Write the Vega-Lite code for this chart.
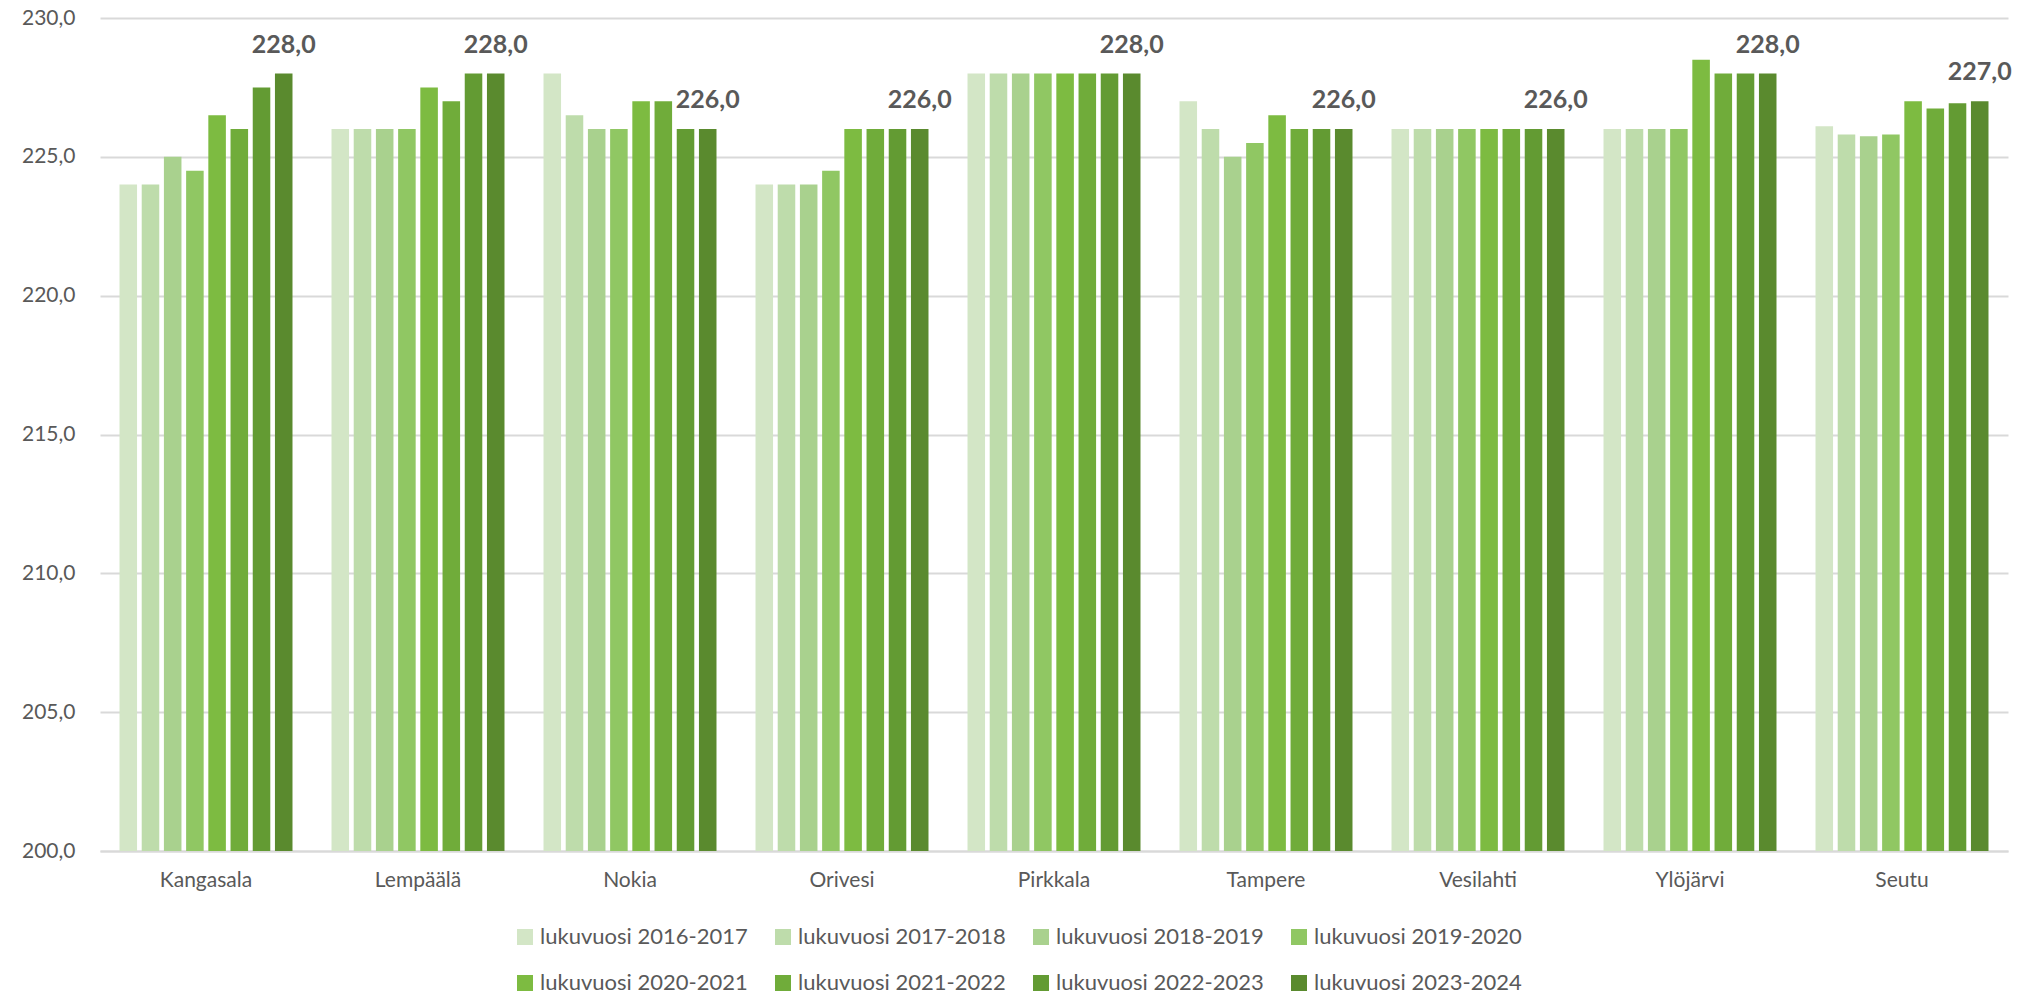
{
  "$schema": "https://vega.github.io/schema/vega-lite/v6.json",
  "width": 1908,
  "height": 833,
  "autosize": {"type": "none"},
  "padding": {"left": 100, "top": 18, "right": 16, "bottom": 145},
  "background": "white",
  "data": {"values": [
    {"kunta": "Kangasala", "lukuvuosi": "lukuvuosi 2016-2017", "arvo": 224},
    {"kunta": "Kangasala", "lukuvuosi": "lukuvuosi 2017-2018", "arvo": 224},
    {"kunta": "Kangasala", "lukuvuosi": "lukuvuosi 2018-2019", "arvo": 225},
    {"kunta": "Kangasala", "lukuvuosi": "lukuvuosi 2019-2020", "arvo": 224.5},
    {"kunta": "Kangasala", "lukuvuosi": "lukuvuosi 2020-2021", "arvo": 226.5},
    {"kunta": "Kangasala", "lukuvuosi": "lukuvuosi 2021-2022", "arvo": 226},
    {"kunta": "Kangasala", "lukuvuosi": "lukuvuosi 2022-2023", "arvo": 227.5},
    {"kunta": "Kangasala", "lukuvuosi": "lukuvuosi 2023-2024", "arvo": 228},
    {"kunta": "Lempäälä", "lukuvuosi": "lukuvuosi 2016-2017", "arvo": 226},
    {"kunta": "Lempäälä", "lukuvuosi": "lukuvuosi 2017-2018", "arvo": 226},
    {"kunta": "Lempäälä", "lukuvuosi": "lukuvuosi 2018-2019", "arvo": 226},
    {"kunta": "Lempäälä", "lukuvuosi": "lukuvuosi 2019-2020", "arvo": 226},
    {"kunta": "Lempäälä", "lukuvuosi": "lukuvuosi 2020-2021", "arvo": 227.5},
    {"kunta": "Lempäälä", "lukuvuosi": "lukuvuosi 2021-2022", "arvo": 227},
    {"kunta": "Lempäälä", "lukuvuosi": "lukuvuosi 2022-2023", "arvo": 228},
    {"kunta": "Lempäälä", "lukuvuosi": "lukuvuosi 2023-2024", "arvo": 228},
    {"kunta": "Nokia", "lukuvuosi": "lukuvuosi 2016-2017", "arvo": 228},
    {"kunta": "Nokia", "lukuvuosi": "lukuvuosi 2017-2018", "arvo": 226.5},
    {"kunta": "Nokia", "lukuvuosi": "lukuvuosi 2018-2019", "arvo": 226},
    {"kunta": "Nokia", "lukuvuosi": "lukuvuosi 2019-2020", "arvo": 226},
    {"kunta": "Nokia", "lukuvuosi": "lukuvuosi 2020-2021", "arvo": 227},
    {"kunta": "Nokia", "lukuvuosi": "lukuvuosi 2021-2022", "arvo": 227},
    {"kunta": "Nokia", "lukuvuosi": "lukuvuosi 2022-2023", "arvo": 226},
    {"kunta": "Nokia", "lukuvuosi": "lukuvuosi 2023-2024", "arvo": 226},
    {"kunta": "Orivesi", "lukuvuosi": "lukuvuosi 2016-2017", "arvo": 224},
    {"kunta": "Orivesi", "lukuvuosi": "lukuvuosi 2017-2018", "arvo": 224},
    {"kunta": "Orivesi", "lukuvuosi": "lukuvuosi 2018-2019", "arvo": 224},
    {"kunta": "Orivesi", "lukuvuosi": "lukuvuosi 2019-2020", "arvo": 224.5},
    {"kunta": "Orivesi", "lukuvuosi": "lukuvuosi 2020-2021", "arvo": 226},
    {"kunta": "Orivesi", "lukuvuosi": "lukuvuosi 2021-2022", "arvo": 226},
    {"kunta": "Orivesi", "lukuvuosi": "lukuvuosi 2022-2023", "arvo": 226},
    {"kunta": "Orivesi", "lukuvuosi": "lukuvuosi 2023-2024", "arvo": 226},
    {"kunta": "Pirkkala", "lukuvuosi": "lukuvuosi 2016-2017", "arvo": 228},
    {"kunta": "Pirkkala", "lukuvuosi": "lukuvuosi 2017-2018", "arvo": 228},
    {"kunta": "Pirkkala", "lukuvuosi": "lukuvuosi 2018-2019", "arvo": 228},
    {"kunta": "Pirkkala", "lukuvuosi": "lukuvuosi 2019-2020", "arvo": 228},
    {"kunta": "Pirkkala", "lukuvuosi": "lukuvuosi 2020-2021", "arvo": 228},
    {"kunta": "Pirkkala", "lukuvuosi": "lukuvuosi 2021-2022", "arvo": 228},
    {"kunta": "Pirkkala", "lukuvuosi": "lukuvuosi 2022-2023", "arvo": 228},
    {"kunta": "Pirkkala", "lukuvuosi": "lukuvuosi 2023-2024", "arvo": 228},
    {"kunta": "Tampere", "lukuvuosi": "lukuvuosi 2016-2017", "arvo": 227},
    {"kunta": "Tampere", "lukuvuosi": "lukuvuosi 2017-2018", "arvo": 226},
    {"kunta": "Tampere", "lukuvuosi": "lukuvuosi 2018-2019", "arvo": 225},
    {"kunta": "Tampere", "lukuvuosi": "lukuvuosi 2019-2020", "arvo": 225.5},
    {"kunta": "Tampere", "lukuvuosi": "lukuvuosi 2020-2021", "arvo": 226.5},
    {"kunta": "Tampere", "lukuvuosi": "lukuvuosi 2021-2022", "arvo": 226},
    {"kunta": "Tampere", "lukuvuosi": "lukuvuosi 2022-2023", "arvo": 226},
    {"kunta": "Tampere", "lukuvuosi": "lukuvuosi 2023-2024", "arvo": 226},
    {"kunta": "Vesilahti", "lukuvuosi": "lukuvuosi 2016-2017", "arvo": 226},
    {"kunta": "Vesilahti", "lukuvuosi": "lukuvuosi 2017-2018", "arvo": 226},
    {"kunta": "Vesilahti", "lukuvuosi": "lukuvuosi 2018-2019", "arvo": 226},
    {"kunta": "Vesilahti", "lukuvuosi": "lukuvuosi 2019-2020", "arvo": 226},
    {"kunta": "Vesilahti", "lukuvuosi": "lukuvuosi 2020-2021", "arvo": 226},
    {"kunta": "Vesilahti", "lukuvuosi": "lukuvuosi 2021-2022", "arvo": 226},
    {"kunta": "Vesilahti", "lukuvuosi": "lukuvuosi 2022-2023", "arvo": 226},
    {"kunta": "Vesilahti", "lukuvuosi": "lukuvuosi 2023-2024", "arvo": 226},
    {"kunta": "Ylöjärvi", "lukuvuosi": "lukuvuosi 2016-2017", "arvo": 226},
    {"kunta": "Ylöjärvi", "lukuvuosi": "lukuvuosi 2017-2018", "arvo": 226},
    {"kunta": "Ylöjärvi", "lukuvuosi": "lukuvuosi 2018-2019", "arvo": 226},
    {"kunta": "Ylöjärvi", "lukuvuosi": "lukuvuosi 2019-2020", "arvo": 226},
    {"kunta": "Ylöjärvi", "lukuvuosi": "lukuvuosi 2020-2021", "arvo": 228.5},
    {"kunta": "Ylöjärvi", "lukuvuosi": "lukuvuosi 2021-2022", "arvo": 228},
    {"kunta": "Ylöjärvi", "lukuvuosi": "lukuvuosi 2022-2023", "arvo": 228},
    {"kunta": "Ylöjärvi", "lukuvuosi": "lukuvuosi 2023-2024", "arvo": 228},
    {"kunta": "Seutu", "lukuvuosi": "lukuvuosi 2016-2017", "arvo": 226.1},
    {"kunta": "Seutu", "lukuvuosi": "lukuvuosi 2017-2018", "arvo": 225.8},
    {"kunta": "Seutu", "lukuvuosi": "lukuvuosi 2018-2019", "arvo": 225.74},
    {"kunta": "Seutu", "lukuvuosi": "lukuvuosi 2019-2020", "arvo": 225.8},
    {"kunta": "Seutu", "lukuvuosi": "lukuvuosi 2020-2021", "arvo": 227.0},
    {"kunta": "Seutu", "lukuvuosi": "lukuvuosi 2021-2022", "arvo": 226.74},
    {"kunta": "Seutu", "lukuvuosi": "lukuvuosi 2022-2023", "arvo": 226.93},
    {"kunta": "Seutu", "lukuvuosi": "lukuvuosi 2023-2024", "arvo": 227.0}
  ]},
  "encoding": {
    "x": {
      "field": "kunta", "type": "nominal",
      "sort": ["Kangasala", "Lempäälä", "Nokia", "Orivesi", "Pirkkala", "Tampere", "Vesilahti", "Ylöjärvi", "Seutu"],
      "scale": {"paddingInner": 0.184, "paddingOuter": 0.092},
      "axis": {"title": null, "labelAngle": 0, "ticks": false, "domainColor": "#d9d9d9", "domainWidth": 2, "labelPadding": 18, "labelFontSize": 21, "labelColor": "#595959", "grid": false}
    },
    "xOffset": {
      "field": "lukuvuosi", "type": "nominal",
      "scale": {"paddingInner": 0.21, "paddingOuter": 0}
    },
    "y": {
      "field": "arvo", "type": "quantitative",
      "scale": {"domain": [200, 230], "nice": false, "zero": false},
      "axis": {"title": null, "values": [200, 205, 210, 215, 220, 225, 230], "format": ".1f", "grid": true, "gridColor": "#d9d9d9", "gridWidth": 2, "domain": false, "ticks": false, "labelPadding": 25, "labelFontSize": 21, "labelColor": "#595959"}
    }
  },
  "layer": [
    {
      "mark": {"type": "bar"},
      "encoding": {
        "y2": {"datum": 200},
        "color": {
          "field": "lukuvuosi", "type": "nominal",
          "scale": {
            "domain": ["lukuvuosi 2016-2017", "lukuvuosi 2017-2018", "lukuvuosi 2018-2019", "lukuvuosi 2019-2020", "lukuvuosi 2020-2021", "lukuvuosi 2021-2022", "lukuvuosi 2022-2023", "lukuvuosi 2023-2024"],
            "range": ["#d3e6c6", "#bedcab", "#a9d18e", "#90c763", "#7dbb41", "#70ac3a", "#639b33", "#5a8a2e"]
          },
          "legend": {
            "title": null, "orient": "none", "legendX": 414, "legendY": 908,
            "direction": "horizontal", "columns": 4, "symbolType": "square", "symbolSize": 256,
            "symbolStrokeWidth": 0, "labelFontSize": 22, "labelColor": "#595959", "labelOffset": 4,
            "columnPadding": 24, "rowPadding": 24, "padding": 0, "labelLimit": 400
          }
        }
      }
    },
    {
      "transform": [{"filter": "datum.lukuvuosi === 'lukuvuosi 2023-2024'"}],
      "mark": {"type": "text", "fontWeight": "bold", "fontSize": 25, "color": "#595959", "baseline": "alphabetic", "align": "center", "dy": -21},
      "encoding": {
        "text": {"field": "arvo", "type": "quantitative", "format": ".1f"}
      }
    }
  ],
  "config": {
    "font": "Lato",
    "view": {"stroke": null},
    "locale": {"number": {"decimal": ",", "thousands": " ", "grouping": [3], "currency": ["", " €"]}}
  }
}
